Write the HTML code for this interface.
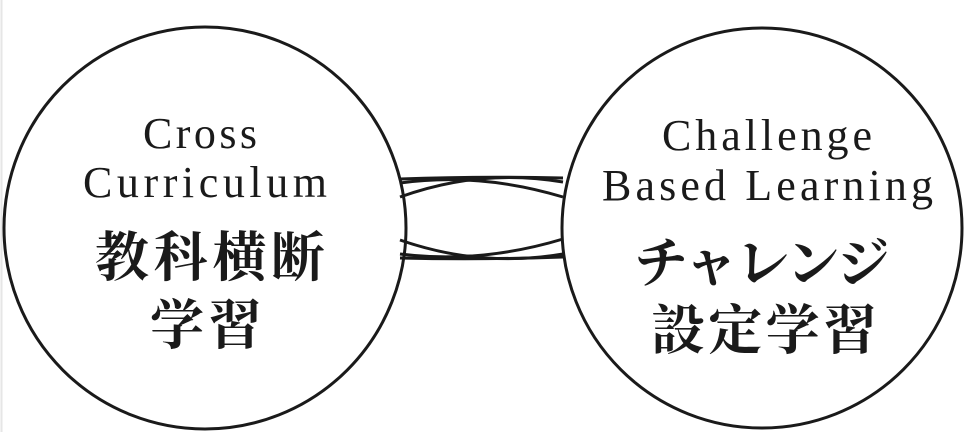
<!DOCTYPE html>
<html><head><meta charset="utf-8"><style>
html,body{margin:0;padding:0;background:#fff;width:965px;height:432px;overflow:hidden}
</style></head><body>
<svg width="965" height="432" viewBox="0 0 965 432" xmlns="http://www.w3.org/2000/svg">
<line x1="1.5" y1="0" x2="1.5" y2="432" stroke="#e6e6e6" stroke-width="2"/>
<g fill="none" stroke="#1a1a1a" stroke-width="3">
<circle cx="205" cy="228" r="201"/>
<circle cx="762" cy="228" r="200"/>
<path d="M400 179 Q480 176 563 178"/>
<path d="M400 183 Q480 172 563 197"/>
<path d="M400 197 Q480 168 563 182"/>
<path d="M400 258 Q480 260 563 257"/>
<path d="M400 254 Q480 264 563 239"/>
<path d="M400 240 Q480 268 563 254"/>
</g>
<g font-family="'Liberation Serif','Noto Serif CJK SC',serif" fill="#1a1a1a">
<text x="143" y="148" font-size="44" textLength="114" lengthAdjust="spacing">Cross</text>
<text x="83" y="197" font-size="44" textLength="244" lengthAdjust="spacing">Curriculum</text>
<text x="95" y="276" font-size="54" font-weight="bold" textLength="230" lengthAdjust="spacing">教科横断</text>
<text x="150" y="344" font-size="54" font-weight="bold" textLength="112" lengthAdjust="spacing">学習</text>
<text x="662" y="150" font-size="44" textLength="210" lengthAdjust="spacing">Challenge</text>
<text x="602" y="200" font-size="44" textLength="331" lengthAdjust="spacing">Based Learning</text>
<text x="634" y="282" font-size="54" font-weight="bold" textLength="256" lengthAdjust="spacing">チャレンジ</text>
<text x="651" y="349" font-size="54" font-weight="bold" textLength="226" lengthAdjust="spacing">設定学習</text>
</g>
</svg>
</body></html>
